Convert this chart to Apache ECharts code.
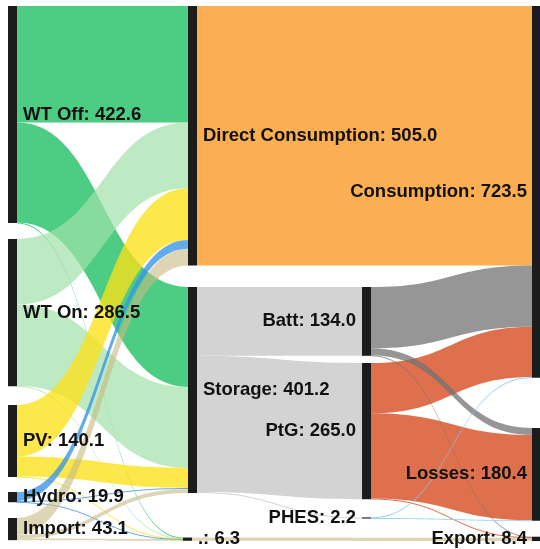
<!DOCTYPE html>
<html>
<head>
<meta charset="utf-8">
<title>Energy flows</title>
<script src="https://cdn.jsdelivr.net/npm/echarts@6/dist/echarts.min.js"></script>
<style>
  html, body { margin: 0; padding: 0; background: #fff; }
  #chart { width: 540px; height: 549px; }
</style>
</head>
<body>
<div id="chart"></div>
<script>
// nodes and their totals
const nodeNames = ['WT Off', 'WT On', 'PV', 'Hydro', 'Import',
  'Direct Consumption', 'Storage', '.',
  'Batt', 'PtG', 'PHES',
  'Consumption', 'Losses', 'Export'];
const nodeValues = [422.6, 286.5, 140.1, 19.9, 43.1,
  505.0, 401.2, 6.3,
  134.0, 265.0, 2.2,
  723.5, 180.4, 8.4];

// flows (source -> target)
const linkSources = [
  'WT Off', 'WT Off', 'WT Off',
  'WT On', 'WT On', 'WT On',
  'PV', 'PV', 'PV',
  'Hydro', 'Hydro', 'Hydro',
  'Import', 'Import', 'Import',
  'Direct Consumption',
  'Storage', 'Storage', 'Storage',
  '.',
  'PtG', 'PtG', 'PtG',
  'Batt', 'Batt', 'Batt',
  'PHES', 'PHES'];
const linkTargets = [
  'Direct Consumption', 'Storage', '.',
  'Direct Consumption', 'Storage', '.',
  'Direct Consumption', 'Storage', '.',
  'Direct Consumption', 'Storage', '.',
  'Direct Consumption', 'Storage', '.',
  'Consumption',
  'Batt', 'PtG', 'PHES',
  'Export',
  'Consumption', 'Losses', 'Export',
  'Consumption', 'Losses', 'Export',
  'Consumption', 'Losses'];
const linkValues = [
  227.0, 194.6, 1.0,
  128.0, 157.5, 1.0,
  100.3, 39.0, 0.8,
  17.3, 2.1, 0.5,
  32.4, 7.7, 3.0,
  505.0,
  134.0, 265.0, 2.2,
  6.3,
  98.0, 165.7, 1.1,
  119.3, 13.7, 1.0,
  1.2, 1.0];

// where each node sits, as fractions of the plot area (x, y)
const placement = {
  'WT Off': [0, 0], 'WT On': [0, 0.4355], 'PV': [0, 0.7458],
  'Hydro': [0, 0.9084], 'Import': [0, 0.957],
  'Direct Consumption': [0.3377, 0], 'Storage': [0.3377, 0.5252], '.': [0.3283, 0.9935],
  'Batt': [0.6642, 0.5252], 'PtG': [0.6642, 0.6673], 'PHES': [0.6642, 0.9559],
  'Consumption': [0.9831, 0], 'Losses': [0.9831, 0.7888], 'Export': [0.9831, 0.992]
};
const leftLabels = ['Batt', 'PtG', 'PHES', 'Consumption', 'Losses', 'Export'];

// flow colour by source
const flowColors = {
  'WT Off': 'rgba(46,196,110,0.85)',
  'WT On': 'rgba(163,225,170,0.7)',
  'PV': 'rgba(252,225,21,0.77)',
  'Hydro': 'rgba(60,150,230,0.8)',
  'Import': 'rgba(200,185,130,0.6)',
  'Direct Consumption': 'rgba(251,174,82,1)',
  'Storage': 'rgba(211,211,211,1)',
  '.': 'rgba(200,185,130,0.6)',
  'PtG': 'rgba(218,96,58,0.9)',
  'Batt': 'rgba(115,115,115,0.75)',
  'PHES': 'rgba(135,206,250,0.9)'
};

const nodes = nodeNames.map(function (name, i) {
  const onLeft = leftLabels.indexOf(name) >= 0;
  return {
    name: name,
    value: nodeValues[i],
    localX: placement[name][0],
    localY: placement[name][1],
    label: {
      position: onLeft ? 'left' : 'right',
      distance: name === 'Consumption' || name === 'Losses' || name === 'Export' ? 5 : 6
    }
  };
});

const links = linkValues.map(function (v, i) {
  return {
    source: linkSources[i],
    target: linkTargets[i],
    value: v,
    lineStyle: { color: flowColors[linkSources[i]], opacity: 1 }
  };
});

let myChart = echarts.init(document.getElementById('chart'));
myChart.setOption({
  animation: false,
  series: [
    {
      type: 'sankey',
      left: 8,
      right: -1,
      top: 6,
      bottom: 8,
      nodeWidth: 9,
      nodeGap: 16.6,
      layoutIterations: 0,
      draggable: false,
      emphasis: { disabled: true },
      itemStyle: { color: '#1c1c1c', borderWidth: 0 },
      lineStyle: { curveness: 0.5, opacity: 1 },
      label: {
        fontFamily: 'Liberation Sans, Arial, sans-serif',
        fontSize: 18.5,
        fontWeight: 'bold',
        color: '#111',
        formatter: function (p) {
          return p.name + ': ' + nodeValues[p.dataIndex].toFixed(1);
        }
      },
      data: nodes,
      links: links
    }
  ]
});
</script>
</body>
</html>
